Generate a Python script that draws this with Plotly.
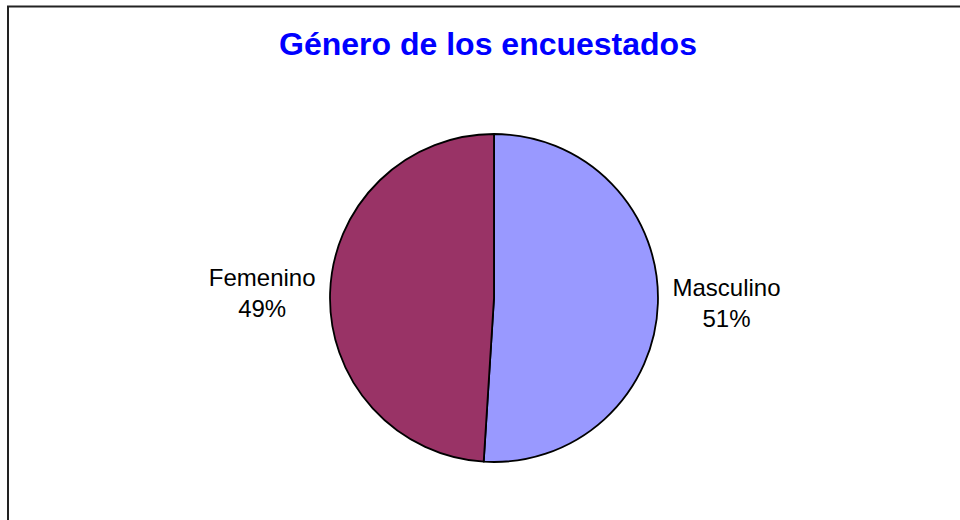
import plotly.graph_objects as go

# datos del gráfico
labels = ["Masculino", "Femenino"]
values = [51, 49]
colors = ["#9999FF", "#993366"]
title_text = "Género de los encuestados"

fig = go.Figure()
fig.add_trace(go.Pie(
    labels=labels, values=values,
    marker=dict(colors=colors, line=dict(color="black", width=1.8)),
    sort=False, direction="clockwise", rotation=0,
    texttemplate="%{label}<br>%{percent:.0%}",
    textposition="outside",
    textfont=dict(family="Liberation Sans, Arial", size=24, color="black"),
    domain=dict(x=[0.34375, 0.6854], y=[0.1115, 0.7423]),
    showlegend=False, hoverinfo="label+percent",
))

# marco del área del gráfico
fig.add_shape(type="rect", xref="paper", yref="paper",
              x0=8/960, x1=1.05, y0=-0.05, y1=1 - 6.5/520,
              line=dict(color="#222222", width=2))

fig.update_layout(
    width=960, height=520,
    margin=dict(l=0, r=0, t=0, b=0),
    paper_bgcolor="white", plot_bgcolor="white",
    title=dict(text="<b>" + title_text + "</b>", x=488/960, xanchor="center",
               y=1 - 44/520, yanchor="middle",
               font=dict(family="Liberation Sans, Arial", size=32, color="#0000FF")),
)

fig.write_html("out.html", config={"displayModeBar": False},
               post_script="document.body.style.margin='0';")
